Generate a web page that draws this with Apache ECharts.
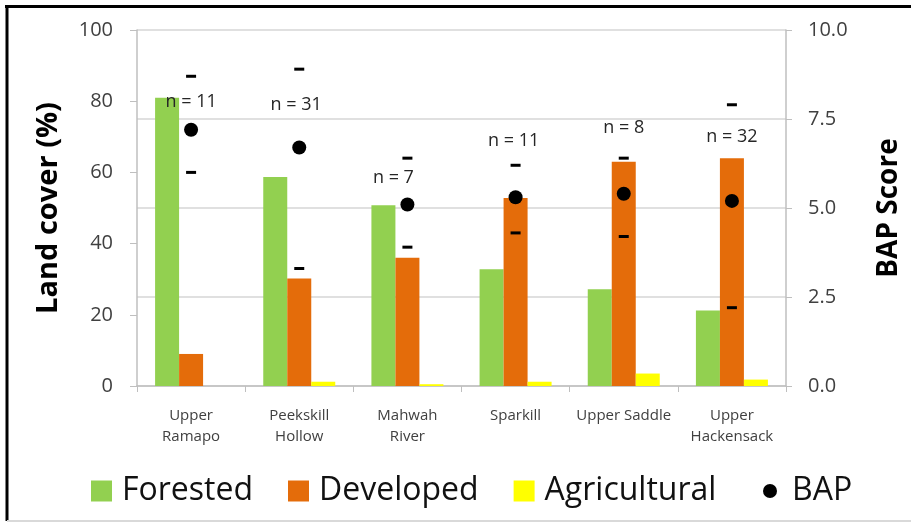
<!DOCTYPE html>
<html>
<head>
<meta charset="utf-8">
<script src="https://cdn.jsdelivr.net/npm/echarts@6/dist/echarts.min.js"></script>
<style>
  html, body { margin: 0; padding: 0; background: #fff; }
  #chart { width: 911px; height: 525px; }
</style>
</head>
<body>
<div id="chart"></div>
<script>
// Watersheds and their land cover shares (%)
const categories = ['Upper\nRamapo', 'Peekskill\nHollow', 'Mahwah\nRiver', 'Sparkill', 'Upper Saddle', 'Upper\nHackensack'];
const forested = [81, 58.7, 50.8, 32.8, 27.2, 21.2];
const developed = [9, 30.2, 36, 52.8, 63, 64];
const agricultural = [0, 1.2, 0.5, 1.2, 3.5, 1.8];

// BAP score: mean with upper / lower range markers, and number of sites
const bapMean = [7.2, 6.7, 5.1, 5.3, 5.4, 5.2];
const bapHigh = [8.7, 8.9, 6.4, 6.2, 6.4, 7.9];
const bapLow = [6.0, 3.3, 3.9, 4.3, 4.2, 2.2];
const sampleSize = [11, 31, 7, 11, 8, 32];

// Left axis ticks and right axis ticks
const coverTicks = { min: 0, max: 100, interval: 20 };
const bapTicks = { min: 0, max: 10, interval: 2.5 };

// Where each "n = .." note sits: height on the BAP scale and sideways nudge (px)
const nNoteHeight = [7.98, 7.89, 5.86, 6.88, 7.25, 7.01];
const nNoteShift = [0, -3, -14, -2, 0, 0];

const FONT = '"Open Sans", "Liberation Sans", sans-serif';
const axisGray = '#bfbfbf';

const chart = echarts.init(document.getElementById('chart'), null, { renderer: 'canvas' });

const pairs = arr => arr.map((v, i) => [categories[i], v]);
const solidBlack = { color: '#000', opacity: 1 };

chart.setOption({
  animation: false,
  backgroundColor: '#ffffff',
  textStyle: { fontFamily: FONT },
  grid: { left: 137, right: 125, top: 30, bottom: 139, containLabel: false },
  legend: [
    {
      data: ['Forested', 'Developed', 'Agricultural'],
      left: 91,
      top: 474,
      padding: 0,
      icon: 'rect',
      itemWidth: 21,
      itemHeight: 21,
      itemGap: 35,
      textStyle: { fontFamily: FONT, fontSize: 32, color: '#111', lineHeight: 34, padding: [0, 0, 0, 5] }
    },
    {
      data: ['BAP'],
      left: 763,
      top: 474,
      padding: 0,
      icon: 'circle',
      itemWidth: 14,
      itemHeight: 14,
      itemStyle: { opacity: 1 },
      textStyle: { fontFamily: FONT, fontSize: 32, color: '#111', lineHeight: 34, padding: [0, 0, 0, 10] }
    }
  ],
  xAxis: {
    type: 'category',
    data: categories,
    axisLine: { lineStyle: { color: axisGray, width: 1.5 } },
    axisTick: { show: true, length: 6, lineStyle: { color: axisGray } },
    axisLabel: { fontFamily: FONT, fontSize: 15, color: '#404040', lineHeight: 21, margin: 19, interval: 0 }
  },
  yAxis: [
    {
      type: 'value',
      min: coverTicks.min,
      max: coverTicks.max,
      interval: coverTicks.interval,
      name: 'Land cover (%)',
      nameLocation: 'middle',
      nameRotate: 90,
      nameGap: 74,
      nameTextStyle: { fontFamily: FONT, fontSize: 29, fontWeight: 'bold', color: '#000' },
      axisLine: { show: true, lineStyle: { color: axisGray, width: 1.5 } },
      axisTick: { show: true, length: 7, lineStyle: { color: axisGray } },
      axisLabel: { fontFamily: FONT, fontSize: 20, color: '#404040', margin: 24 },
      splitLine: { show: false }
    },
    {
      type: 'value',
      position: 'right',
      min: bapTicks.min,
      max: bapTicks.max,
      interval: bapTicks.interval,
      name: 'BAP Score',
      nameLocation: 'middle',
      nameRotate: 90,
      nameGap: 89,
      nameTextStyle: { fontFamily: FONT, fontSize: 28, fontWeight: 'bold', color: '#000' },
      axisLine: { show: true, lineStyle: { color: axisGray, width: 1.5 } },
      axisTick: { show: true, length: 6, lineStyle: { color: axisGray } },
      axisLabel: { fontFamily: FONT, fontSize: 20, color: '#404040', margin: 22, formatter: v => v.toFixed(1) },
      splitLine: { show: true, lineStyle: { color: '#d6d6d6', width: 1.5 } }
    }
  ],
  series: [
    {
      name: 'Forested', type: 'bar', data: forested, barWidth: 24, barGap: '0%',
      itemStyle: { color: '#92d050' }
    },
    {
      name: 'Developed', type: 'bar', data: developed, barWidth: 24, barGap: '0%',
      itemStyle: { color: '#e46c0a' }
    },
    {
      name: 'Agricultural', type: 'bar', data: agricultural, barWidth: 24, barGap: '0%',
      itemStyle: { color: '#ffff00' }
    },
    {
      name: 'BAP', type: 'scatter', yAxisIndex: 1, data: pairs(bapMean),
      symbol: 'circle', symbolSize: 14, itemStyle: solidBlack, z: 5
    },
    {
      name: 'BAP high', type: 'scatter', yAxisIndex: 1, data: pairs(bapHigh),
      symbol: 'rect', symbolSize: [10, 3], itemStyle: solidBlack, z: 5
    },
    {
      name: 'BAP low', type: 'scatter', yAxisIndex: 1, data: pairs(bapLow),
      symbol: 'rect', symbolSize: [10, 3], itemStyle: solidBlack, z: 5
    },
    {
      name: 'Sites', type: 'scatter', yAxisIndex: 1,
      data: sampleSize.map((n, i) => ({
        value: [categories[i], nNoteHeight[i]],
        label: { offset: [nNoteShift[i], 0] }
      })),
      symbolSize: 1,
      itemStyle: { color: 'transparent', opacity: 1 },
      label: {
        show: true, position: 'inside', fontFamily: FONT, fontSize: 18, color: '#262626',
        formatter: p => 'n = ' + sampleSize[p.dataIndex]
      },
      z: 6
    }
  ],
  graphic: [
    { type: 'line', shape: { x1: 5, y1: 6.5, x2: 911, y2: 6.5 }, style: { stroke: '#000', lineWidth: 3 } },
    { type: 'line', shape: { x1: 7, y1: 5, x2: 7, y2: 521 }, style: { stroke: '#000', lineWidth: 3 } },
    { type: 'line', shape: { x1: 7, y1: 521, x2: 911, y2: 521 }, style: { stroke: '#d9d9d9', lineWidth: 2 } }
  ]
});
</script>
</body>
</html>
